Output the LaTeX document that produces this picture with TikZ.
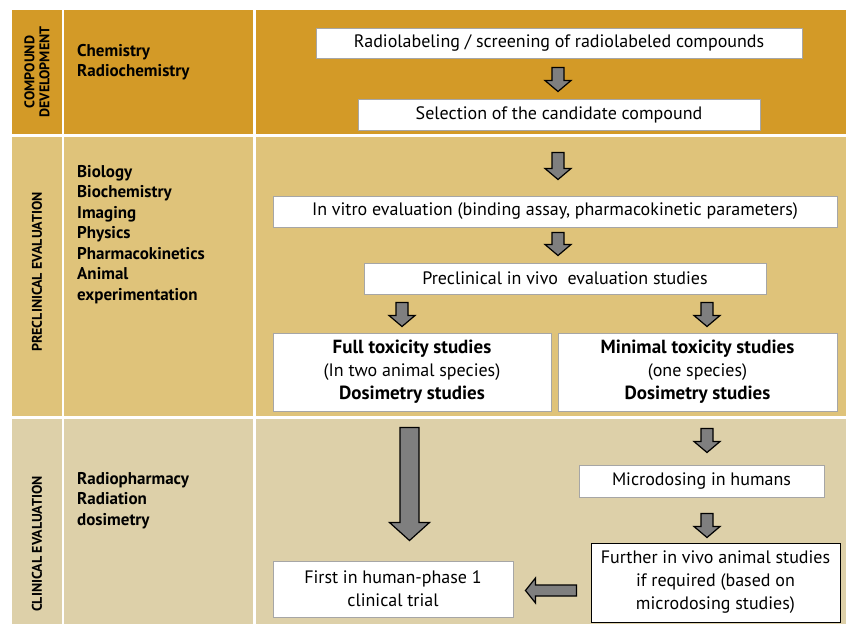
\documentclass[tikz,border=0pt]{standalone}
\usepackage{fontspec}
\setmainfont{PT Sans}
\usetikzlibrary{calc}
\definecolor{rowA}{HTML}{D39A27}
\definecolor{rowB}{HTML}{DFC37A}
\definecolor{rowC}{HTML}{DDD0A9}
\definecolor{arrowgray}{HTML}{7F7F7F}
\definecolor{boxgray}{HTML}{A6A6A6}
\newcommand\bigbf[1]{{\bfseries\fontsize{19}{23}\selectfont #1}}
\tikzset{
  box/.style={draw=boxgray, line width=1pt, fill=white, inner sep=2pt,
    font=\fontsize{18}{23}\selectfont, align=center},
  blk/.style={draw=black, fill=arrowgray, line width=1.2pt, line join=miter},
  lbl/.style={font=\bfseries\fontsize{17}{20.5}\selectfont, anchor=north west,
    align=left, inner sep=0pt},
  rot/.style={rotate=90, font=\bfseries\fontsize{14}{15}\selectfont, align=center}
}
% vertical block arrow: start point, end point, shaft half width, head half width, head length
\newcommand\dnblk[5]{%
  \draw[blk] let \p1=#1, \p2=#2 in
    (\x1-#3,\y1) -- (\x1+#3,\y1) -- (\x1+#3,\y2+#5) -- (\x1+#4,\y2+#5)
    -- (\x1,\y2) -- (\x1-#4,\y2+#5) -- (\x1-#3,\y2+#5) -- cycle;}
% leftward block arrow
\newcommand\lfblk[5]{%
  \draw[blk] let \p1=#1, \p2=#2 in
    (\x1,\y1-#3) -- (\x1,\y1+#3) -- (\x2+#5,\y1+#3) -- (\x2+#5,\y1+#4)
    -- (\x2,\y1) -- (\x2+#5,\y1-#4) -- (\x2+#5,\y1-#3) -- cycle;}
\begin{document}
\begin{tikzpicture}[x=1pt,y=-1pt]
\useasboundingbox (0,0) rectangle (846,624);
\fill[white] (0,0) rectangle (846,624);
% table background
\fill[rowA] (12,10) rectangle (62,134);
\fill[rowA] (64,10) rectangle (253,134);
\fill[rowA] (256,10) rectangle (846,134);
\fill[rowB] (12,137) rectangle (62,416);
\fill[rowB] (64,137) rectangle (253,416);
\fill[rowB] (256,137) rectangle (846,416);
\fill[rowC] (12,419) rectangle (62,624);
\fill[rowC] (64,419) rectangle (253,624);
\fill[rowC] (256,419) rectangle (846,624);
% stage labels
\node[rot] (s1) at (37,72) {COMPOUND\\DEVELOPMENT};
\node[rot] (s2) at (37,272) {PRECLINICAL EVALUATION};
\node[rot] (s3) at (37,544) {CLINICAL EVALUATION};
% disciplines
\node[lbl] (d1) at (77,44) {Chemistry\\Radiochemistry};
\node[lbl] (d2) at (77,165) {Biology\\Biochemistry\\Imaging\\Physics\\Pharmacokinetics\\Animal\\experimentation};
\node[lbl] (d3) at (77,472) {Radiopharmacy\\Radiation\\dosimetry};
% boxes
\node[box, minimum width=486pt, minimum height=30pt] (b1) at (559,43)
  {Radiolabeling / screening of radiolabeled compounds};
\node[box, minimum width=402pt, minimum height=31pt] (b2) at (559,114.5)
  {Selection of the candidate compound};
\node[box, minimum width=564pt, minimum height=31pt] (b3) at (555,211.5)
  {In vitro evaluation (binding assay, pharmacokinetic parameters)};
\node[box, minimum width=402pt, minimum height=31pt] (b4) at (565,278.5)
  {Preclinical in vivo\ \ evaluation studies};
\node[box, minimum width=278pt, minimum height=78pt] (b5l) at (412,372)
  {\bigbf{Full toxicity studies}\\(In two animal species)\\\bigbf{Dosimetry studies}};
\node[box, minimum width=279pt, minimum height=78pt] (b5r) at (697.5,372)
  {\bigbf{Minimal toxicity studies}\\(one species)\\\bigbf{Dosimetry studies}};
\node[box, minimum width=245pt, minimum height=32pt] (b6) at (701.5,481)
  {Microdosing in humans};
\node[box, draw=black, minimum width=249pt, minimum height=79pt] (b7) at (715.5,582.5)
  {Further in vivo animal studies\\if required (based on\\microdosing studies)};
\node[box, minimum width=240pt, minimum height=56pt] (b8) at (393,589)
  {First in human-phase 1\\clinical trial};
% arrows
\dnblk{($(b1.south)+(-1,9)$)}{($(b2.north)+(-1,-7)$)}{6pt}{13pt}{11pt}
\dnblk{($(b2.south)+(-1,22)$)}{($(b3.north)+(3,-16)$)}{6pt}{13pt}{11pt}
\dnblk{($(b3.south)+(3,5)$)}{($(b4.north)+(-7,-7)$)}{6pt}{13pt}{11pt}
\dnblk{($(b4.south -| b5l.north)+(-10,8)$)}{($(b5l.north)+(-10,-6)$)}{6pt}{13pt}{11pt}
\dnblk{($(b4.south -| b5r.north)+(9.5,8)$)}{($(b5r.north)+(9.5,-6)$)}{6pt}{13pt}{11pt}
\dnblk{($(b5l.south)+(-2.5,16)$)}{($(b8.north)+(16.5,-20)$)}{9.5pt}{20pt}{18pt}
\dnblk{($(b5r.south)+(9.5,17)$)}{($(b6.north)+(5.5,-12)$)}{6pt}{13pt}{11pt}
\dnblk{($(b6.south)+(5.5,16)$)}{($(b7.north)+(-8.5,-5)$)}{6pt}{13pt}{11pt}
\lfblk{($(b7.west)+(-14,8)$)}{($(b8.east)+(12,0)$)}{5.5pt}{12.5pt}{10pt}
\end{tikzpicture}
\end{document}
